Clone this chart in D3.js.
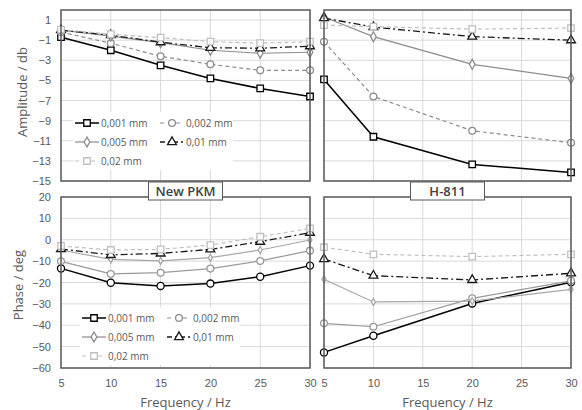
<!DOCTYPE html>
<html>
<head>
<meta charset="utf-8">
<script src="https://cdn.jsdelivr.net/npm/d3@7"></script>
<style>
  body { margin: 0; background: #fff; }
  svg { font-family: "Open Sans", sans-serif; }
  .tick text { fill: #595959; font-size: 11px; }
  .grid line { stroke: #d9d9d9; stroke-width: 1; }
  .legend text { fill: #595959; font-size: 10px; }
</style>
</head>
<body>
<svg id="chart"></svg>
<script>
// frequencies (Hz)
const freqPkm = [5, 10, 15, 20, 25, 30];
const freqH811 = [5, 10, 20, 30];

// series names
const seriesNames = ['0,001 mm', '0,002 mm', '0,005 mm', '0,01 mm', '0,02 mm'];

// amplitude / db, New PKM
const ampPkm001 = [-0.7, -2.0, -3.5, -4.8, -5.8, -6.6];
const ampPkm002 = [-0.2, -1.3, -2.6, -3.4, -4.0, -4.0];
const ampPkm005 = [0.0, -0.6, -1.25, -2.0, -2.3, -2.2];
const ampPkm01 = [0.0, -0.5, -1.2, -1.75, -1.8, -1.6];
const ampPkm02 = [0.05, -0.4, -0.75, -1.15, -1.3, -1.15];

// amplitude / db, H-811
const ampH001 = [-4.9, -10.6, -13.35, -14.15];
const ampH002 = [-1.15, -6.6, -10.0, -11.2];
const ampH005 = [1.3, -0.65, -3.4, -4.8];
const ampH01 = [1.2, 0.3, -0.65, -1.0];
const ampH02 = [0.5, 0.35, 0.1, 0.2];

// phase / deg, New PKM
const phPkm001 = [-13.4, -20.1, -21.6, -20.5, -17.3, -12.1];
const phPkm002 = [-10.1, -16.0, -15.4, -13.5, -9.9, -5.1];
const phPkm005 = [-4.8, -9.2, -9.9, -8.4, -4.8, -0.1];
const phPkm01 = [-4.3, -7.1, -6.4, -4.5, -0.9, 3.3];
const phPkm02 = [-2.9, -4.8, -4.5, -2.5, 1.4, 5.3];

// phase / deg, H-811
const phH001 = [-52.7, -44.9, -29.8, -19.9];
const phH002 = [-39.1, -40.7, -27.4, -19.2];
const phH005 = [-18.5, -29.1, -28.7, -23.2];
const phH01 = [-9.0, -16.8, -18.8, -15.7];
const phH02 = [-3.5, -6.8, -7.9, -6.8];

// axis ticks
const xTicks = [5, 10, 15, 20, 25, 30];
const ampTicks = [1, -1, -3, -5, -7, -9, -11, -13, -15];
const phaseTicks = [20, 10, 0, -10, -20, -30, -40, -50, -60];

const width = 582, height = 410;
const svg = d3.select('#chart').attr('width', width).attr('height', height);

// line / marker style of each series (amplitude look)
const styles = [
  {color: '#000000', dash: null, sym: d3.symbolSquare, size: 42, lw: 1.5},
  {color: '#8c8c8c', dash: '4,3', sym: d3.symbolCircle, size: 36, lw: 1.2},
  {color: '#8c8c8c', dash: null, sym: d3.symbolDiamond, size: 28, lw: 1.2},
  {color: '#1a1a1a', dash: '7,3,2,3', sym: d3.symbolTriangle, size: 34, lw: 1.3},
  {color: '#bfbfbf', dash: '4,3', sym: d3.symbolSquare, size: 42, lw: 1.2}
];
// phase plots draw 0,001 and 0,002 with solid lines and circles
const phaseStyles = styles.map((s, i) => {
  if (i === 0) return {...s, sym: d3.symbolCircle, size: 40};
  if (i === 1) return {...s, dash: null, color: '#9a9a9a'};
  if (i === 2) return {...s, color: '#a6a6a6', size: 14};
  return s;
});

const panels = [
  {x0: 61, x1: 310, y0: 10, y1: 181, freq: freqPkm, domain: [-15, 2], ticks: ampTicks, yLabels: true,
   data: [ampPkm001, ampPkm002, ampPkm005, ampPkm01, ampPkm02], st: styles, legend: {x: 75, y: 123}},
  {x0: 324, x1: 571, y0: 10, y1: 181, freq: freqH811, domain: [-15, 2], ticks: ampTicks, yLabels: false,
   data: [ampH001, ampH002, ampH005, ampH01, ampH02], st: styles},
  {x0: 61, x1: 310, y0: 197, y1: 368, freq: freqPkm, domain: [-60, 20], ticks: phaseTicks, yLabels: true,
   data: [phPkm001, phPkm002, phPkm005, phPkm01, phPkm02], st: phaseStyles, legend: {x: 82, y: 318}, xAxis: true},
  {x0: 324, x1: 571, y0: 197, y1: 368, freq: freqH811, domain: [-60, 20], ticks: phaseTicks, yLabels: false,
   data: [phH001, phH002, phH005, phH01, phH02], st: phaseStyles, xAxis: true}
];

function marker(sel, s) {
  sel.attr('d', d3.symbol().type(s.sym).size(s.size)())
    .attr('fill', '#fff')
    .attr('stroke', s.color)
    .attr('stroke-width', 1.3);
}

panels.forEach(p => {
  const x = d3.scaleLinear().domain([5, 30]).range([p.x0, p.x1]);
  const y = d3.scaleLinear().domain(p.domain).range([p.y1, p.y0]);
  p.x = x; p.y = y;

  // grid
  const grid = svg.append('g').attr('class', 'grid');
  grid.selectAll('.hg').data(p.ticks).join('line')
    .attr('x1', p.x0).attr('x2', p.x1)
    .attr('y1', d => y(d)).attr('y2', d => y(d));
  grid.selectAll('.vg').data(xTicks).join('line')
    .attr('x1', d => x(d)).attr('x2', d => x(d))
    .attr('y1', p.y0).attr('y2', p.y1);

  // y axis labels
  if (p.yLabels) {
    const ya = d3.axisLeft(y).tickValues(p.ticks).tickSize(0).tickPadding(10);
    svg.append('g').attr('transform', `translate(${p.x0},0)`).call(ya)
      .call(g => g.select('.domain').remove());
  }
  // x axis labels
  if (p.xAxis) {
    const xa = d3.axisBottom(x).tickValues(xTicks).tickSize(0).tickPadding(11);
    svg.append('g').attr('transform', `translate(0,${p.y1})`).call(xa)
      .call(g => g.select('.domain').remove());
    svg.append('text')
      .attr('x', (p.x0 + p.x1) / 2).attr('y', 407)
      .attr('text-anchor', 'middle').attr('fill', '#595959').attr('font-size', 13)
      .text('Frequency / Hz');
  }

  // legend background (drawn before the lines like Excel's plot-area legend)
  if (p.legend) {
    const lg = p.legend;
    svg.append('rect').attr('x', lg.x - 2).attr('y', lg.y - 11)
      .attr('width', 160).attr('height', 58).attr('fill', '#fff');
  }

  // series
  const line = d3.line().x((d, i) => x(p.freq[i])).y(d => y(d));
  p.data.forEach((vals, k) => {
    const s = p.st[k];
    svg.append('path').datum(vals)
      .attr('d', line)
      .attr('fill', 'none')
      .attr('stroke', s.color)
      .attr('stroke-width', s.lw)
      .attr('stroke-dasharray', s.dash);
  });
  p.data.forEach((vals, k) => {
    const s = p.st[k];
    svg.append('g').selectAll('path').data(vals).join('path')
      .attr('transform', (d, i) => `translate(${x(p.freq[i])},${y(d)})`)
      .call(marker, s);
  });

  // plot border
  svg.append('rect')
    .attr('x', p.x0).attr('y', p.y0)
    .attr('width', p.x1 - p.x0).attr('height', p.y1 - p.y0)
    .attr('fill', 'none').attr('stroke', '#595959').attr('stroke-width', 1.5);

  // legend
  if (p.legend) {
    const lg = p.legend;
    const pos = [[0, 0], [85, 0], [0, 19], [85, 19], [0, 38]];
    const leg = svg.append('g').attr('class', 'legend');
    seriesNames.forEach((name, k) => {
      const s = styles[k];
      const gx = lg.x + pos[k][0], gy = lg.y + pos[k][1];
      leg.append('line').attr('x1', gx).attr('x2', gx + 24)
        .attr('y1', gy).attr('y2', gy)
        .attr('stroke', s.color).attr('stroke-width', s.lw)
        .attr('stroke-dasharray', s.dash ? (k === 3 ? '5,3,2,3' : '4,4') : null);
      leg.append('path').attr('transform', `translate(${gx + 12},${gy})`).call(marker, s);
      leg.append('text').attr('x', gx + 26).attr('y', gy + 3.5).text(name);
    });
  }
});

// panel titles
[['New PKM', panels[0]], ['H-811', panels[1]]].forEach(([t, p]) => {
  const cx = (p.x0 + p.x1) / 2;
  svg.append('rect').attr('x', cx - 37).attr('y', 182).attr('width', 74).attr('height', 18)
    .attr('fill', '#fff').attr('stroke', '#595959').attr('stroke-width', 1);
  svg.append('text').attr('x', cx).attr('y', 196).attr('text-anchor', 'middle')
    .attr('font-size', 13).attr('font-weight', 600).attr('fill', '#404040').text(t);
});

// y axis titles
svg.append('text').attr('transform', 'translate(27,92) rotate(-90)')
  .attr('text-anchor', 'middle').attr('fill', '#595959').attr('font-size', 13)
  .text('Amplitude / db');
svg.append('text').attr('transform', 'translate(23,285) rotate(-90)')
  .attr('text-anchor', 'middle').attr('fill', '#595959').attr('font-size', 13)
  .text('Phase / deg');
</script>
</body>
</html>
